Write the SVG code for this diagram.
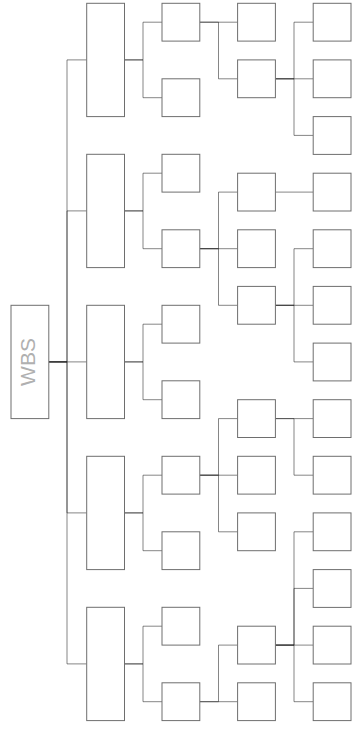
<svg xmlns="http://www.w3.org/2000/svg" width="356" height="735" viewBox="0 0 356 735">
<style>
.n{fill:#fff;stroke:#6e6e6e;stroke-width:1}
.c path{fill:none;stroke:#222;stroke-opacity:.55;stroke-width:1}
.t{font-family:"Liberation Sans",Arial,sans-serif;font-size:21px;fill:#b0b0b0;text-anchor:middle}
</style>
<rect width="356" height="735" fill="#fff"/>
<g class="c" id="connectors">
<path d="M48.8 361.9H67V59.9H86.7"/>
<path d="M48.8 361.9H67V210.9H86.7"/>
<path d="M48.8 361.9H86.7"/>
<path d="M48.8 361.9H67V512.9H86.7"/>
<path d="M48.8 361.9H67V663.9H86.7"/>
<path d="M124.5 59.9H143V22.2H162"/>
<path d="M124.5 59.9H143V97.7H162"/>
<path d="M124.5 210.9H143V173.2H162"/>
<path d="M124.5 210.9H143V248.7H162"/>
<path d="M124.5 361.9H143V324.2H162"/>
<path d="M124.5 361.9H143V399.7H162"/>
<path d="M124.5 512.9H143V475.2H162"/>
<path d="M124.5 512.9H143V550.7H162"/>
<path d="M124.5 663.9H143V626.2H162"/>
<path d="M124.5 663.9H143V701.7H162"/>
<path d="M199.8 22.2H237.6"/>
<path d="M199.8 22.2H218.5V78.8H237.6"/>
<path d="M199.8 248.7H218.5V192.1H237.6"/>
<path d="M199.8 248.7H237.6"/>
<path d="M199.8 248.7H218.5V305.3H237.6"/>
<path d="M199.8 475.2H218.5V418.6H237.6"/>
<path d="M199.8 475.2H237.6"/>
<path d="M199.8 475.2H218.5V531.8H237.6"/>
<path d="M199.8 701.7H218.5V645.1H237.6"/>
<path d="M199.8 701.7H237.6"/>
<path d="M275.4 78.8H294V22.2H313.2"/>
<path d="M275.4 78.8H313.2"/>
<path d="M275.4 78.8H294V135.4H313.2"/>
<path d="M275.4 192.1H313.2"/>
<path d="M275.4 305.3H294V248.7H313.2"/>
<path d="M275.4 305.3H313.2"/>
<path d="M275.4 305.3H294V361.9H313.2"/>
<path d="M275.4 418.6H313.2"/>
<path d="M275.4 418.6H294V475.2H313.2"/>
<path d="M275.4 645.1H294V531.8H313.2"/>
<path d="M275.4 645.1H294V588.4H313.2"/>
<path d="M275.4 645.1H313.2"/>
<path d="M275.4 645.1H294V701.7H313.2"/>
</g>
<g id="wbs"><rect class="n" x="11" y="305.3" width="37.8" height="113.3"/><text class="t" transform="translate(35 362) rotate(-90)">WBS</text></g>
<g id="l2-1"><rect class="n" x="86.7" y="3.3" width="37.8" height="113.3"/></g>
<g id="l2-2"><rect class="n" x="86.7" y="154.3" width="37.8" height="113.3"/></g>
<g id="l2-3"><rect class="n" x="86.7" y="305.3" width="37.8" height="113.3"/></g>
<g id="l2-4"><rect class="n" x="86.7" y="456.3" width="37.8" height="113.3"/></g>
<g id="l2-5"><rect class="n" x="86.7" y="607.3" width="37.8" height="113.3"/></g>
<g id="l3-1"><rect class="n" x="162" y="3.3" width="37.8" height="37.8"/></g>
<g id="l3-2"><rect class="n" x="162" y="78.8" width="37.8" height="37.8"/></g>
<g id="l3-3"><rect class="n" x="162" y="154.3" width="37.8" height="37.8"/></g>
<g id="l3-4"><rect class="n" x="162" y="229.8" width="37.8" height="37.8"/></g>
<g id="l3-5"><rect class="n" x="162" y="305.3" width="37.8" height="37.8"/></g>
<g id="l3-6"><rect class="n" x="162" y="380.8" width="37.8" height="37.8"/></g>
<g id="l3-7"><rect class="n" x="162" y="456.3" width="37.8" height="37.8"/></g>
<g id="l3-8"><rect class="n" x="162" y="531.8" width="37.8" height="37.8"/></g>
<g id="l3-9"><rect class="n" x="162" y="607.3" width="37.8" height="37.8"/></g>
<g id="l3-10"><rect class="n" x="162" y="682.8" width="37.8" height="37.8"/></g>
<g id="l4-1"><rect class="n" x="237.6" y="3.3" width="37.8" height="37.8"/></g>
<g id="l4-2"><rect class="n" x="237.6" y="59.9" width="37.8" height="37.8"/></g>
<g id="l4-3"><rect class="n" x="237.6" y="173.2" width="37.8" height="37.8"/></g>
<g id="l4-4"><rect class="n" x="237.6" y="229.8" width="37.8" height="37.8"/></g>
<g id="l4-5"><rect class="n" x="237.6" y="286.4" width="37.8" height="37.8"/></g>
<g id="l4-6"><rect class="n" x="237.6" y="399.7" width="37.8" height="37.8"/></g>
<g id="l4-7"><rect class="n" x="237.6" y="456.3" width="37.8" height="37.8"/></g>
<g id="l4-8"><rect class="n" x="237.6" y="512.9" width="37.8" height="37.8"/></g>
<g id="l4-9"><rect class="n" x="237.6" y="626.2" width="37.8" height="37.8"/></g>
<g id="l4-10"><rect class="n" x="237.6" y="682.8" width="37.8" height="37.8"/></g>
<g id="l5-1"><rect class="n" x="313.2" y="3.3" width="37.8" height="37.8"/></g>
<g id="l5-2"><rect class="n" x="313.2" y="59.9" width="37.8" height="37.8"/></g>
<g id="l5-3"><rect class="n" x="313.2" y="116.6" width="37.8" height="37.8"/></g>
<g id="l5-4"><rect class="n" x="313.2" y="173.2" width="37.8" height="37.8"/></g>
<g id="l5-5"><rect class="n" x="313.2" y="229.8" width="37.8" height="37.8"/></g>
<g id="l5-6"><rect class="n" x="313.2" y="286.4" width="37.8" height="37.8"/></g>
<g id="l5-7"><rect class="n" x="313.2" y="343.1" width="37.8" height="37.8"/></g>
<g id="l5-8"><rect class="n" x="313.2" y="399.7" width="37.8" height="37.8"/></g>
<g id="l5-9"><rect class="n" x="313.2" y="456.3" width="37.8" height="37.8"/></g>
<g id="l5-10"><rect class="n" x="313.2" y="512.9" width="37.8" height="37.8"/></g>
<g id="l5-11"><rect class="n" x="313.2" y="569.6" width="37.8" height="37.8"/></g>
<g id="l5-12"><rect class="n" x="313.2" y="626.2" width="37.8" height="37.8"/></g>
<g id="l5-13"><rect class="n" x="313.2" y="682.8" width="37.8" height="37.8"/></g>
</svg>
